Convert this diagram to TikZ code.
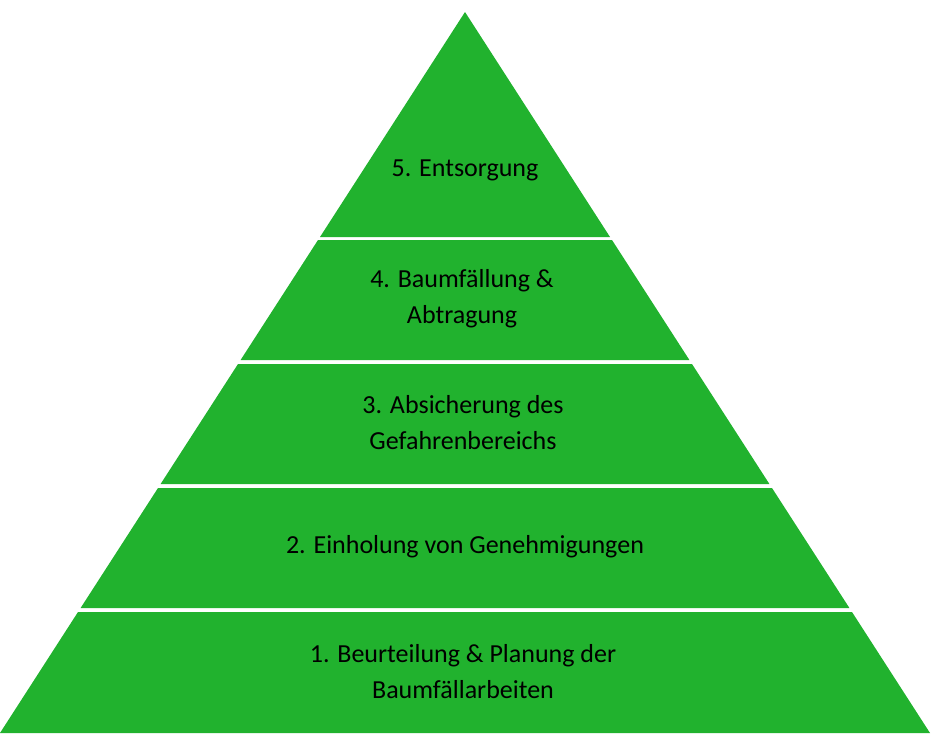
\documentclass[tikz,border=0pt]{standalone}
\usepackage{fontspec}
\setmainfont{Carlito}
\begin{document}
\begin{tikzpicture}[x=1pt,y=-1pt]
\definecolor{pg}{HTML}{21B22E}
\tikzset{layer/.style={fill=pg,draw=none},lbl/.style={align=center,font=\fontsize{26}{36}\selectfont,text=black}}
\useasboundingbox (0,0) rectangle (933,739);
\fill[layer] (465,12) -- (610,237) -- (320,237) -- cycle;
\fill[layer] (318,240) -- (612,240) -- (689.4,360) -- (240.6,360) -- cycle;
\fill[layer] (238,364) -- (692,364) -- (769.4,484) -- (160.6,484) -- cycle;
\fill[layer] (158,488) -- (772,488) -- (849.4,608) -- (80.6,608) -- cycle;
\fill[layer] (78,612) -- (852,612) -- (930,733) -- (0,733) -- cycle;
\node[lbl] (l5) at (465,170) {5. Entsorgung};
\node[lbl] (l4) at (462,299) {4. Baumfällung \&\\Abtragung};
\node[lbl] (l3) at (463,423) {3. Absicherung des\\Gefahrenbereichs};
\node[lbl] (l2) at (465,547) {2. Einholung von Genehmigungen};
\node[lbl] (l1) at (463,672) {1. Beurteilung \& Planung der\\Baumfällarbeiten};
\end{tikzpicture}
\end{document}
